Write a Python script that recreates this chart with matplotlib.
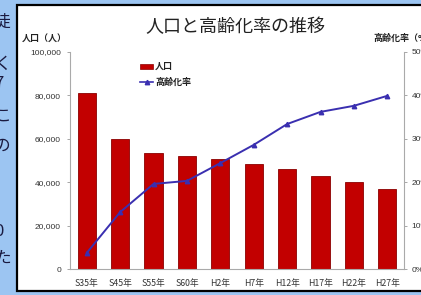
import matplotlib
matplotlib.use("Agg")
import matplotlib.pyplot as plt
from matplotlib.patches import Rectangle
from matplotlib.lines import Line2D

plt.rcParams['font.family'] = ['Noto Sans CJK JP', 'DejaVu Sans']

# data
years = ["S35年", "S45年", "S55年", "S60年", "H2年", "H7年", "H12年", "H17年", "H22年", "H27年"]
population = [81000, 60000, 53500, 52200, 50600, 48500, 46000, 43000, 40100, 36900]
aging_rate = [3.7, 13.1, 19.6, 20.3, 24.4, 28.6, 33.4, 36.2, 37.6, 39.9]
left_ticks = [0, 20000, 40000, 60000, 80000, 100000]
right_ticks = [0, 10, 20, 30, 40, 50]
side_chars = ["徒", "く", "7", "こ", "の", "0", "た"]
side_char_y = [22, 64, 84, 116, 146, 232, 258]

W, H = 421, 295
fig = plt.figure(figsize=(W / 100, H / 100), dpi=100)
fig.patch.set_facecolor('#9cc5f2')

# white frame of the pasted chart
frame = Rectangle((17 / W, 0.014), 1.0, 0.969, transform=fig.transFigure,
                  facecolor='white', edgecolor='black', linewidth=1.6, zorder=-10)
fig.patches.append(frame)

# cut-off text on the left strip
for ch, yy in zip(side_chars, side_char_y):
    fig.text(-6 / W, 1 - yy / H, ch, fontsize=12, color='#1a1a40',
             ha='left', va='center')

ax = fig.add_axes([70 / W, (H - 269) / H, 334 / W, 217 / H])
ax.set_facecolor('none')
x = range(len(years))
ax.bar(x, population, width=0.54, color='#c20000', edgecolor='#8a0000', linewidth=0.6, zorder=2)
ax.set_xlim(-0.5, len(years) - 0.5)
ax.set_ylim(0, 100000)
ax.set_yticks(left_ticks)
ax.set_yticklabels([f"{v:,}" for v in left_ticks], fontsize=6, color='#333333',
                   family=['Liberation Sans Narrow', 'Liberation Sans'])
ax.set_xticks(list(x))
ax.set_xticklabels(years, fontsize=6.3, color='#333333')
ax.tick_params(axis='x', length=0, pad=7)
ax.tick_params(axis='y', length=2.5, width=0.6, color='#999999', pad=4)
for s in ['top', 'right']:
    ax.spines[s].set_visible(False)
ax.spines['left'].set_color('#aaaaaa')
ax.spines['bottom'].set_color('#aaaaaa')
ax.spines['left'].set_linewidth(0.8)
ax.spines['bottom'].set_linewidth(0.8)

ax2 = ax.twinx()
ax2.plot(x, aging_rate, color='#3a2fb0', linewidth=1.4, marker='^', markersize=3.2, zorder=3)
ax2.set_ylim(0, 50)
ax2.set_yticks(right_ticks)
ax2.set_yticklabels([f"{v}%" for v in right_ticks], fontsize=6, color='#333333',
                    family=['Liberation Sans Narrow', 'Liberation Sans'])
ax2.tick_params(axis='y', length=2.5, width=0.6, color='#999999', pad=3)
for s in ['top', 'left', 'bottom']:
    ax2.spines[s].set_visible(False)
ax2.spines['right'].set_color('#aaaaaa')
ax2.spines['right'].set_linewidth(0.8)

fig.text(235 / W, 1 - 27 / H, "人口と高齢化率の推移", fontsize=13, color='#222222',
         ha='center', va='center')
fig.text(22 / W, 1 - 38 / H, "人口（人）", fontsize=6.5, color='#222222',
         ha='left', va='center', fontweight='bold')
fig.text(373 / W, 1 - 38 / H, "高齢化率（%）", fontsize=6.5, color='#222222',
         ha='left', va='center', fontweight='bold')

# legend drawn by hand to match its placement
fig.patches.append(Rectangle((140 / W, 1 - 69 / H), 13 / W, 5 / H, transform=fig.transFigure,
                             facecolor='#c20000', edgecolor='#8a0000', linewidth=0.5))
fig.text(155 / W, 1 - 66.5 / H, "人口", fontsize=6.5, color='#222222', ha='left', va='center',
         fontweight='bold')
fig.lines.append(Line2D([140 / W, 153 / W], [1 - 82 / H, 1 - 82 / H], transform=fig.transFigure,
                        color='#3a2fb0', linewidth=1.2))
fig.lines.append(Line2D([146.5 / W], [1 - 82 / H], transform=fig.transFigure,
                        color='#3a2fb0', marker='^', markersize=3.2, linestyle='none'))
fig.text(155 / W, 1 - 82 / H, "高齢化率", fontsize=6.5, color='#222222', ha='left', va='center',
         fontweight='bold')

fig.savefig("out.png", dpi=100)
